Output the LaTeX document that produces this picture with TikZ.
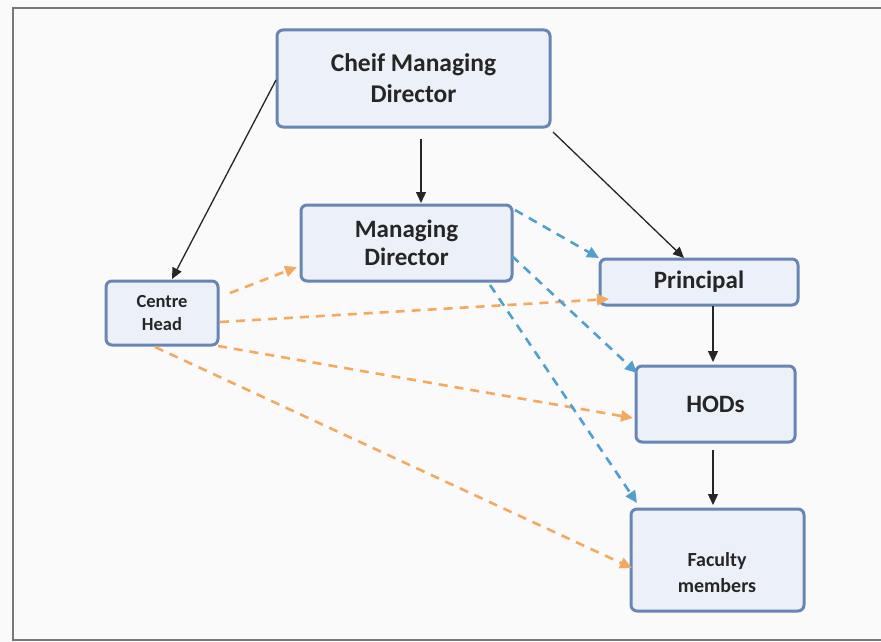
\documentclass[tikz,border=0pt]{standalone}
\usepackage{fontspec}
\setmainfont{Carlito}
\usetikzlibrary{arrows.meta}
\definecolor{boxline}{RGB}{104,134,180}
\definecolor{boxfill}{RGB}{236,241,249}
\definecolor{orangeline}{RGB}{243,170,96}
\definecolor{blueline}{RGB}{80,160,205}
\definecolor{framegray}{RGB}{120,120,120}
\tikzset{
  orgbox/.style={draw=boxline, line width=3pt, fill=boxfill, rounded corners=6pt,
    align=center, font=\bfseries, text=black!85, inner sep=0pt},
  solidarrow/.style={draw=black!85, line width=1.3pt, -{Triangle[length=11pt,width=10pt]}},
  orangearrow/.style={draw=orangeline, line width=2.6pt, dash pattern=on 9pt off 7pt,
    -{Triangle[length=12pt,width=11pt]}},
  bluearrow/.style={draw=blueline, line width=2.6pt, dash pattern=on 9pt off 7pt,
    -{Triangle[length=12pt,width=11pt]}}
}
\begin{document}
\begin{tikzpicture}[x=1pt,y=-1pt]
  \useasboundingbox[fill=white!98!black] (0,0) rectangle (881,642);
  % outer frame, open on the right
  \draw[framegray, line width=2pt] (881,8) -- (13,8) -- (13,640) -- (881,640);

  % boxes
  \node[orgbox, minimum width=273pt, minimum height=97pt, font=\bfseries\fontsize{25.5}{31}\selectfont]
    (cmd) at (413.5,78.5) {Cheif Managing\\Director};
  \node[orgbox, minimum width=211pt, minimum height=76pt, font=\bfseries\fontsize{25}{28}\selectfont]
    (md) at (406.5,243) {Managing\\Director};
  \node[orgbox, minimum width=112pt, minimum height=64pt, font=\bfseries\fontsize{18.5}{23}\selectfont]
    (ch) at (162,313) {Centre\\Head};
  \node[orgbox, minimum width=198pt, minimum height=46pt, font=\bfseries\fontsize{25}{28}\selectfont]
    (pr) at (699,282) {Principal};
  \node[orgbox, minimum width=159pt, minimum height=76pt, font=\bfseries\fontsize{25}{28}\selectfont]
    (hod) at (715.5,404) {HODs};
  \node[orgbox, minimum width=173pt, minimum height=102pt] (fac) at (717.5,560) {};
  \node[font=\bfseries\fontsize{20}{26}\selectfont, text=black!85, align=center, inner sep=0pt]
    (factext) at (717,573) {Faculty\\members};

  % arrow end points
  \coordinate (cmdL) at (276,80);
  \coordinate (chT) at (172,279);
  \coordinate (cmdB) at (421,139);
  \coordinate (mdT) at (421,203);
  \coordinate (cmdR) at (553,132);
  \coordinate (prT) at (684,258);
  \coordinate (prB) at (713,306);
  \coordinate (hodT) at (713,362);
  \coordinate (hodB) at (713,450);
  \coordinate (facT) at (713,505);

  \coordinate (chA) at (230,293);
  \coordinate (mdL) at (297,267);
  \coordinate (chB) at (220,322);
  \coordinate (prL) at (609,299);
  \coordinate (chC) at (218,346);
  \coordinate (hodL) at (633,418);
  \coordinate (chD) at (155,347);
  \coordinate (facL) at (632,568);

  \coordinate (mdA) at (515,210);
  \coordinate (prTL) at (599,258);
  \coordinate (mdB) at (512,256);
  \coordinate (hodTL) at (637,373);
  \coordinate (mdC) at (490,285);
  \coordinate (facTL) at (637,503);

  % reporting lines
  \draw[solidarrow] (cmdL) -- (chT);
  \draw[solidarrow] (cmdB) -- (mdT);
  \draw[solidarrow] (cmdR) -- (prT);
  \draw[solidarrow] (prB) -- (hodT);
  \draw[solidarrow] (hodB) -- (facT);

  % centre head links
  \draw[orangearrow] (chA) -- (mdL);
  \draw[orangearrow] (chB) -- (prL);
  \draw[orangearrow] (chC) -- (hodL);
  \draw[orangearrow] (chD) -- (facL);

  % managing director links
  \draw[bluearrow] (mdA) -- (prTL);
  \draw[bluearrow] (mdB) -- (hodTL);
  \draw[bluearrow] (mdC) -- (facTL);
\end{tikzpicture}
\end{document}
